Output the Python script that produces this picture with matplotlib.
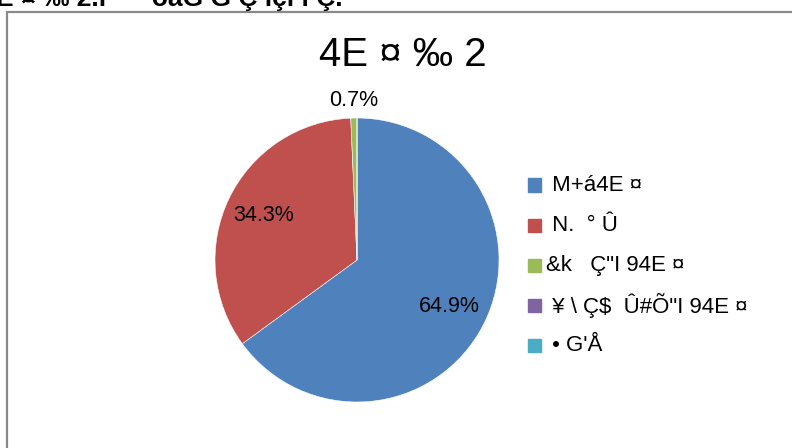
import matplotlib.pyplot as plt
from matplotlib.patches import Rectangle
import numpy as np

plt.rcParams['font.family'] = ['Liberation Sans', 'DejaVu Sans']

# data
labels = [' M+á4E ¤', ' N.  ° Û', '&k   Ç"I 94E ¤', ' ¥ \\ Ç$  Û#Õ"I 94E ¤', ' • G\'Å']
values = [64.9, 34.3, 0.7, 0.0, 0.0]
colors = ['#4F81BD', '#C0504D', '#9BBB59', '#8064A2', '#4BACC6']
title = '4E ¤ ‰ 2'
top_text = 'E ¤ ‰ 2.ı   ·  ŏãĞ G Ç ıçı ı Ç.'

W, H = 792, 448
fig = plt.figure(figsize=(W / 100, H / 100), dpi=100)

def fx(px):
    return px / W

def fy(py):
    return 1 - py / H

# chart border (cut by figure edges)
fig.patches.append(Rectangle((fx(7), fy(600)), fx(900), fy(12) - fy(600),
                             transform=fig.transFigure, fill=False,
                             edgecolor='#8a8a8a', lw=1.6))

# cut-off text on top
fig.text(fx(-4), fy(6), top_text, fontsize=19, fontweight='bold',
         ha='left', va='baseline')

fig.text(fx(403), fy(66), title, fontsize=29, ha='center', va='baseline')

cx, cy, r = 357, 260, 142
ax = fig.add_axes([fx(cx - r), fy(cy + r), fx(2 * r), fy(cy - r) - fy(cy + r)])
wedges, _ = ax.pie(values, colors=colors, startangle=90, counterclock=False,
                   radius=1, wedgeprops=dict(edgecolor='white', linewidth=0.4))
ax.set_xlim(-1, 1)
ax.set_ylim(-1, 1)
ax.set_aspect('equal')
ax.set_axis_off()

for w, v in zip(wedges, values):
    if v <= 0:
        continue
    ang = np.deg2rad((w.theta1 + w.theta2) / 2)
    dist = 0.73 if v > 5 else 1.12
    ax.text(dist * np.cos(ang), dist * np.sin(ang), f'{v:.1f}%',
            ha='center', va='center', fontsize=15.5)

# legend
for i, (lab, c) in enumerate(zip(labels, colors)):
    yy = 185 + i * 40.2
    fig.patches.append(Rectangle((fx(528), fy(yy + 6.5)), fx(13), fy(yy - 6.5) - fy(yy + 6.5),
                                 transform=fig.transFigure, color=c))
    fig.text(fx(546), fy(yy), lab, fontsize=16, ha='left', va='center')

fig.savefig('out.png', dpi=100)
